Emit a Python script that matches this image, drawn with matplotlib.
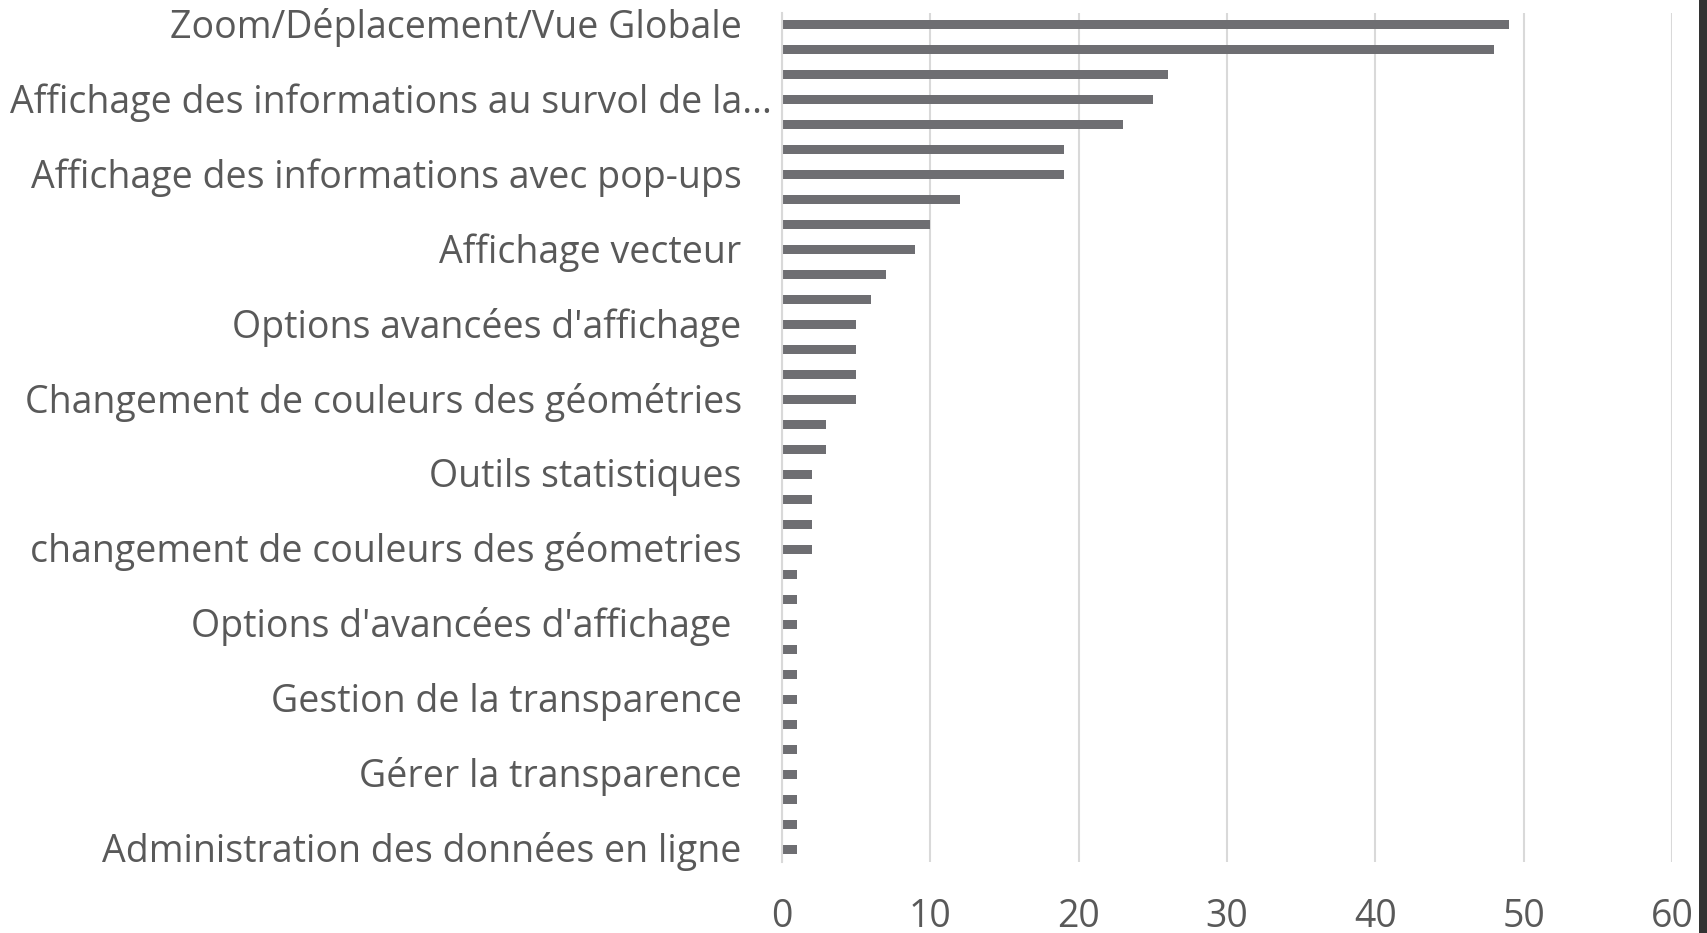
import matplotlib
matplotlib.use("Agg")
import matplotlib.pyplot as plt
from matplotlib.patches import Rectangle
from matplotlib.transforms import ScaledTranslation

plt.rcParams['font.family'] = ['Open Sans', 'DejaVu Sans']

# Values of the 34 bars, top to bottom
values = [49, 48, 26, 25, 23, 19, 19, 12, 10, 9, 7, 6, 5, 5, 5, 5, 3, 3,
          2, 2, 2, 2, 1, 1, 1, 1, 1, 1, 1, 1, 1, 1, 1, 1]
# Only every third category label is shown in the chart
shown_labels = [
    "Zoom/Déplacement/Vue Globale",
    "Affichage des informations au survol de la...",
    "Affichage des informations avec pop-ups",
    "Affichage vecteur",
    "Options avancées d'affichage",
    "Changement de couleurs des géométries",
    "Outils statistiques",
    "changement de couleurs des géometries",
    "Options d'avancées d'affichage ",
    "Gestion de la transparence",
    "Gérer la transparence",
    "Administration des données en ligne",
]
label_step = 3
x_ticks = [0, 10, 20, 30, 40, 50, 60]

BAR = "#6e6e72"
TEXT = "#595959"
GRID = "#d9d9d9"

fig = plt.figure(figsize=(17.08, 9.33), dpi=100)
ax = fig.add_axes([782/1708, 1 - 861.5/933, (1672-782)/1708, (861.5-12.5)/933])

pos = list(range(len(values)))
ax.barh(pos, values, height=0.36, color=BAR, zorder=3)
ax.set_ylim(len(values) - 0.5, -0.5)
ax.set_xlim(0, 60)
ax.set_xticks(x_ticks)
ax.set_xticklabels([str(t) for t in x_ticks])
ax.set_yticks(pos[::label_step])
ax.set_yticklabels(shown_labels)

ax.grid(axis='x', color=GRID, linewidth=1.5, zorder=0)
for s in ['top', 'right', 'bottom']:
    ax.spines[s].set_visible(False)
ax.spines['left'].set_color(GRID)
ax.spines['left'].set_linewidth(1.5)
ax.spines['left'].set_zorder(4)
ax.tick_params(axis='both', length=0, labelsize=27, labelcolor=TEXT)
ax.tick_params(axis='y', pad=29)
ax.tick_params(axis='x', pad=26.5)

# nudge category labels up slightly; the truncated label sits further right
for i, lbl in enumerate(ax.get_yticklabels()):
    dx = 0.30 if i == 1 else 0.0
    lbl.set_transform(lbl.get_transform() + ScaledTranslation(dx, 0.02, fig.dpi_scale_trans))

fig.patches.append(Rectangle((1699/1708, 0), 9/1708, 1, transform=fig.transFigure,
                             facecolor="#333333", edgecolor='none', zorder=10))

fig.savefig("out.png", dpi=100)
